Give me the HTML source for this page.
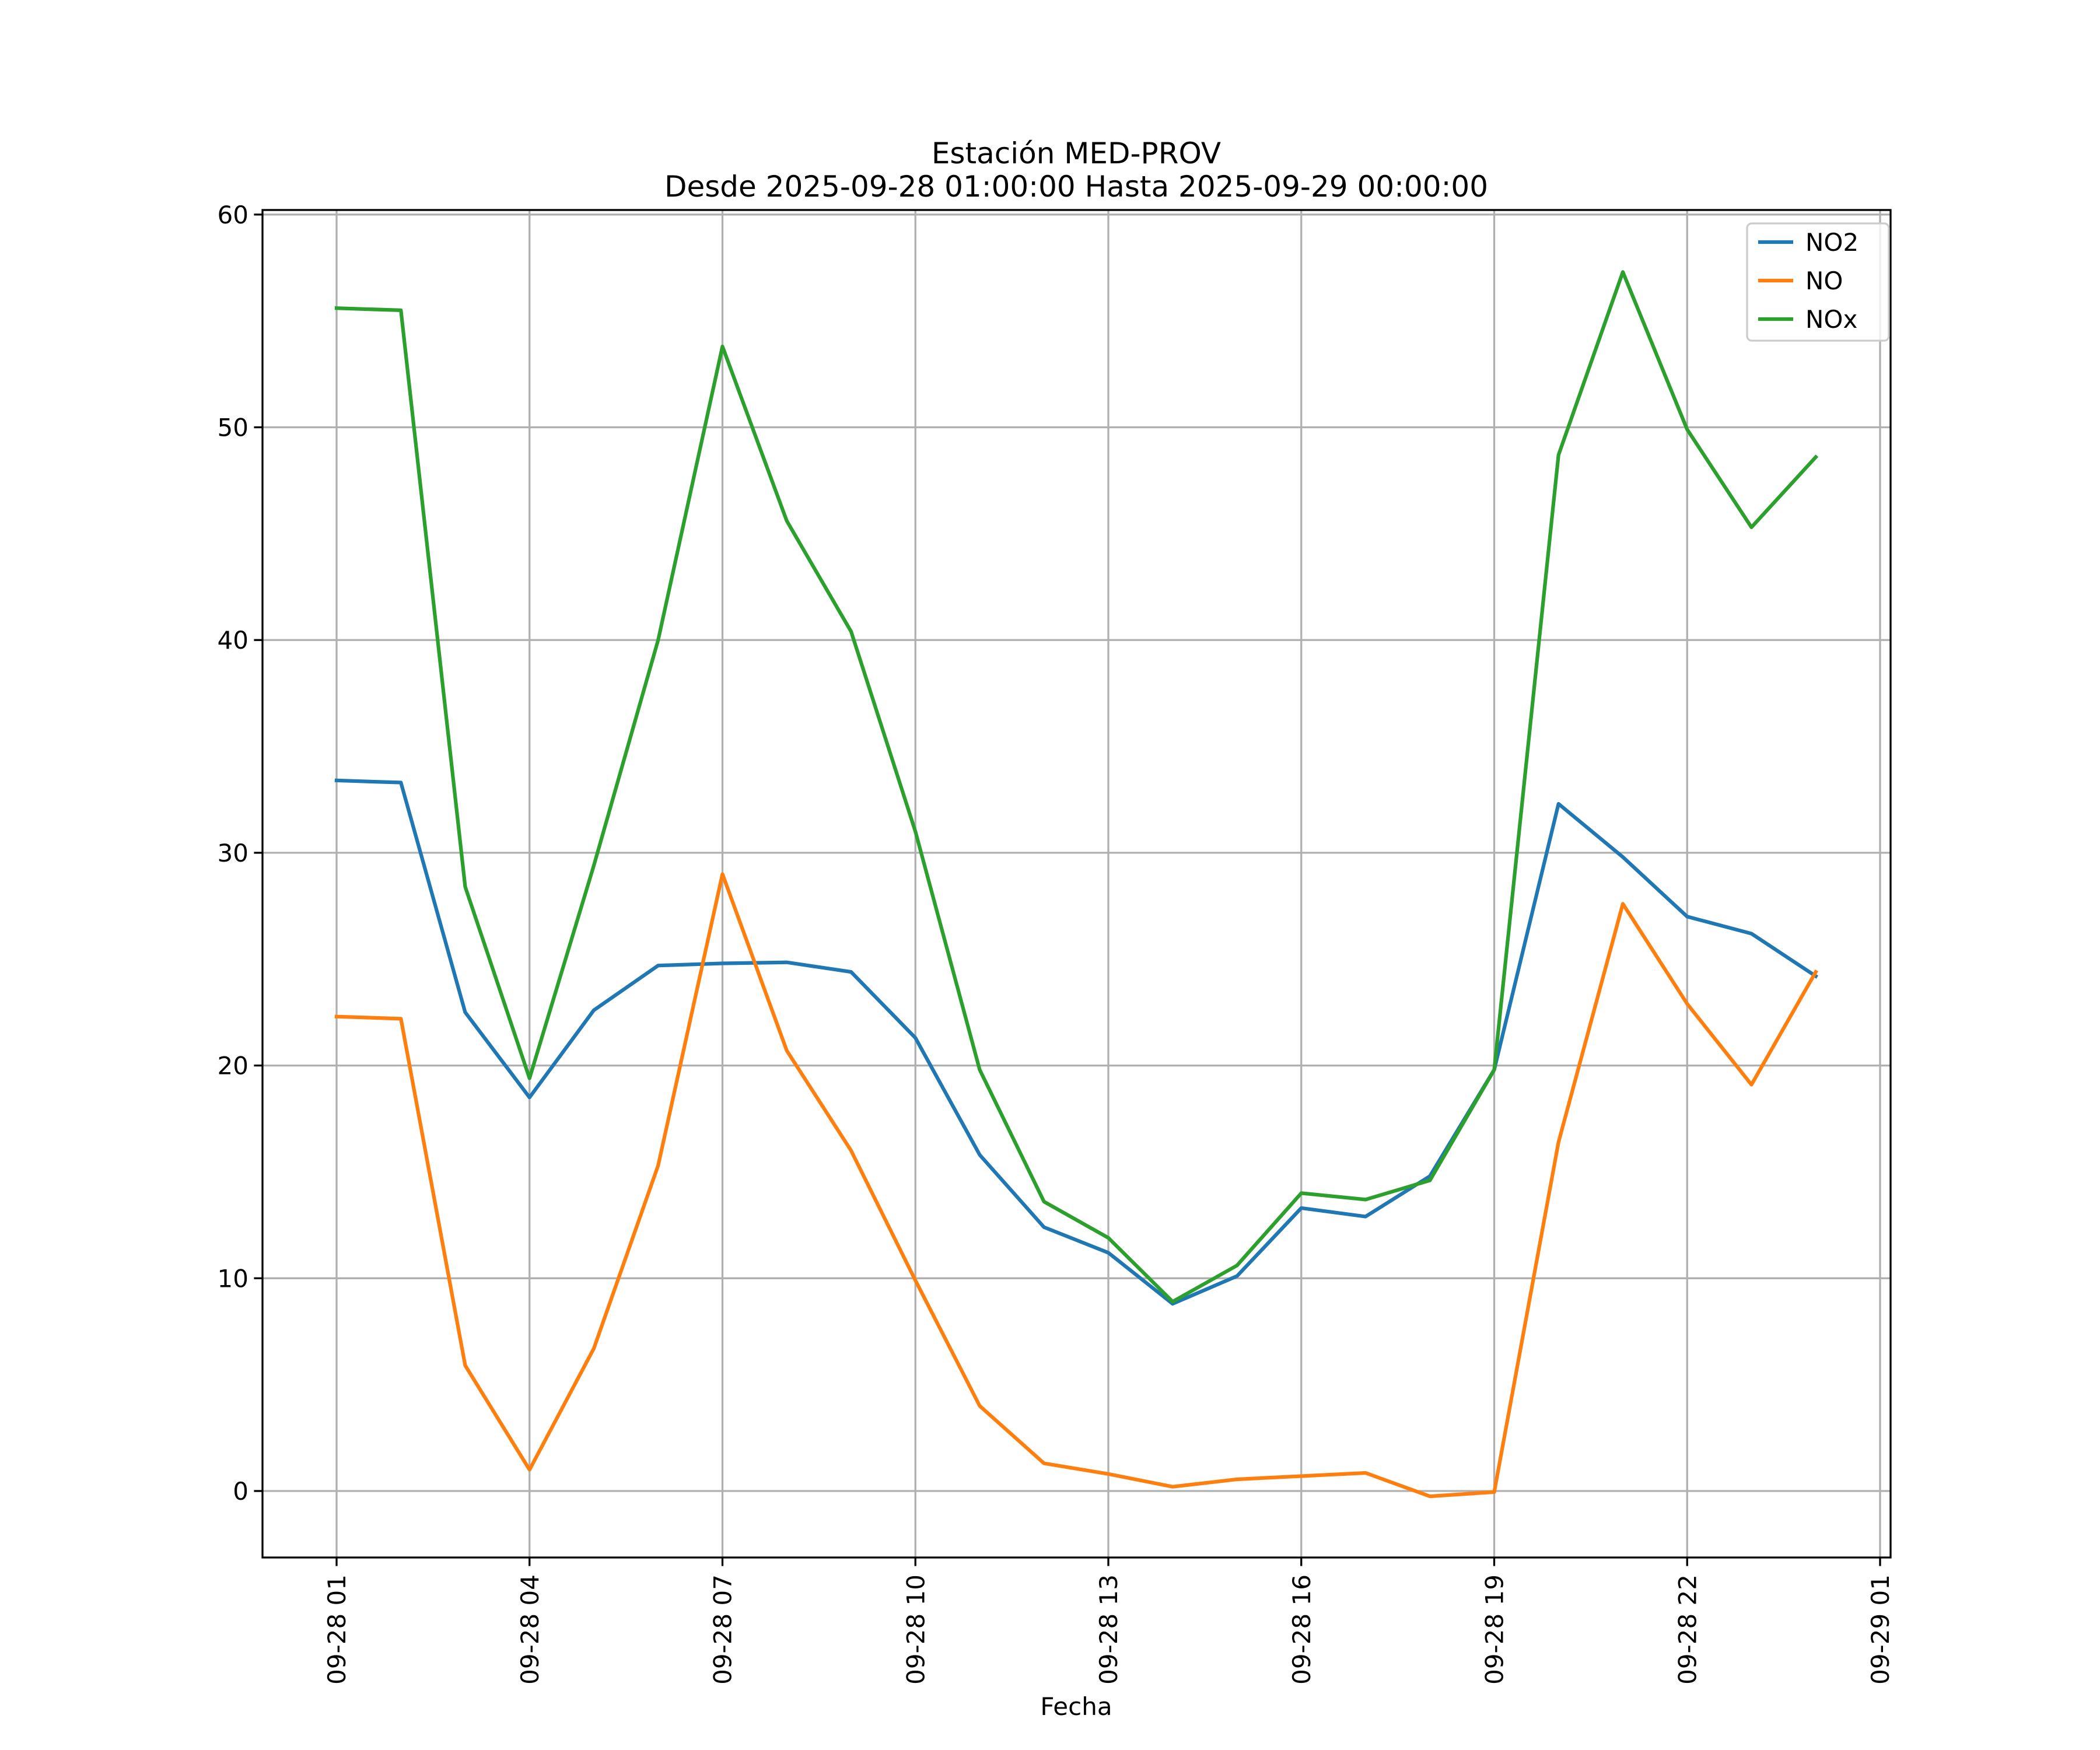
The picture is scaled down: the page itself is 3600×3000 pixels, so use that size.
<!DOCTYPE html>
<html><head><meta charset="utf-8"><style>html,body{margin:0;padding:0;background:#fff}svg{display:block}text{font-family:"DejaVu Sans","Liberation Sans",sans-serif;fill:#000}</style></head>
<body>
<svg id="chart" width="3600" height="3000" viewBox="0 0 3600 3000" xmlns="http://www.w3.org/2000/svg">
<rect width="3600" height="3000" fill="#fff"/>
<text x="1845" y="280" font-size="50" text-anchor="middle">Estación MED-PROV</text>
<text x="1845" y="337" font-size="50" text-anchor="middle">Desde 2025-09-28 01:00:00 Hasta 2025-09-29 00:00:00</text>
<g id="grid"></g>
<g id="lines"></g>
<rect x="450" y="360" width="2791" height="2310" fill="none" stroke="#000" stroke-width="3.3"/>
<g id="axes"></g>
<text x="1845" y="2940" font-size="42" text-anchor="middle">Fecha</text>
<g id="legend"></g>
</svg>
<script>
const hours = [1,2,3,4,5,6,7,8,9,10,11,12,13,14,15,16,17,18,19,20,21,22,23,24];
const no2 = [33.4,33.3,22.5,18.5,22.6,24.7,24.8,24.85,24.4,21.3,15.8,12.4,11.2,8.8,10.1,13.3,12.9,14.8,19.8,32.3,29.8,27.0,26.2,24.2];
const no = [22.3,22.2,5.9,1.0,6.7,15.3,29.0,20.7,16.0,9.9,4.0,1.3,0.8,0.2,0.55,0.7,0.85,-0.25,-0.05,16.4,27.6,22.9,19.1,24.4];
const nox = [55.6,55.5,28.4,19.4,29.4,40.0,53.8,45.6,40.4,31.0,19.8,13.6,11.9,8.9,10.6,14.0,13.7,14.6,19.8,48.7,57.3,49.9,45.3,48.6];
const seriesNames = ["NO2","NO","NOx"];
const yTicks = [0,10,20,30,40,50,60];
const xTickHours = [1,4,7,10,13,16,19,22,25];
const xTickLabels = ["09-28 01","09-28 04","09-28 07","09-28 10","09-28 13","09-28 16","09-28 19","09-28 22","09-29 01"];

const NS="http://www.w3.org/2000/svg";
const L=450,R=3241,T=360,B=2670;
function xs(h){return 577+(h-1)*110.25;}
function ys(v){return 2556-v*36.47;}
function mk(tag,attrs,parent){const e=document.createElementNS(NS,tag);for(const k in attrs)e.setAttribute(k,attrs[k]);parent.appendChild(e);return e;}
const grid=document.getElementById('grid'),axes=document.getElementById('axes'),lines=document.getElementById('lines'),legend=document.getElementById('legend');
yTicks.forEach(v=>{
  const y=ys(v);
  const g=mk('line',{x1:L,x2:R,y1:y,y2:y,stroke:'#b0b0b0','stroke-width':3.3},grid);
  
  
  const t=mk('line',{x1:L-14.6,x2:L,y1:y,y2:y,stroke:'#000','stroke-width':3.3},axes);
  
  
  const tx=mk('text',{x:L-24,y:y+15,'font-size':42,'text-anchor':'end'},axes);
  tx.textContent=v;
  
  
});
xTickHours.forEach((h,i)=>{
  const x=xs(h);
  const g=mk('line',{x1:x,x2:x,y1:T,y2:B,stroke:'#b0b0b0','stroke-width':3.3},grid);
  
  
  const t=mk('line',{x1:x,x2:x,y1:B,y2:B+14.6,stroke:'#000','stroke-width':3.3},axes);
  
  
  const tx=mk('text',{x:0,y:0,'font-size':42,'text-anchor':'end',transform:`translate(${x+15},${B+29}) rotate(-90)`},axes);
  tx.textContent=xTickLabels[i];
  
  
});
const colors=['#1f77b4','#ff7f0e','#2ca02c'];
[no2,no,nox].forEach((arr,si)=>{
  const p=mk('polyline',{points:arr.map((v,i)=>xs(hours[i])+','+ys(v)).join(' '),fill:'none',stroke:colors[si],'stroke-width':6.25,'stroke-linejoin':'round','stroke-linecap':'square'},lines);
  
  
});
const box=mk('rect',{x:2995,y:383,width:243,height:201,rx:8,fill:'#fff','fill-opacity':0.8,stroke:'#ccc','stroke-width':3.3},legend);


seriesNames.forEach((n,i)=>{
  const y=415+i*66;
  const l=mk('line',{x1:3014,x2:3074,y1:y,y2:y,stroke:colors[i],'stroke-width':6.25},legend);
  
  
  const t=mk('text',{x:3095,y:y+15,'font-size':42},legend);
  t.textContent=n;
  
  
});
</script>
</body></html>
